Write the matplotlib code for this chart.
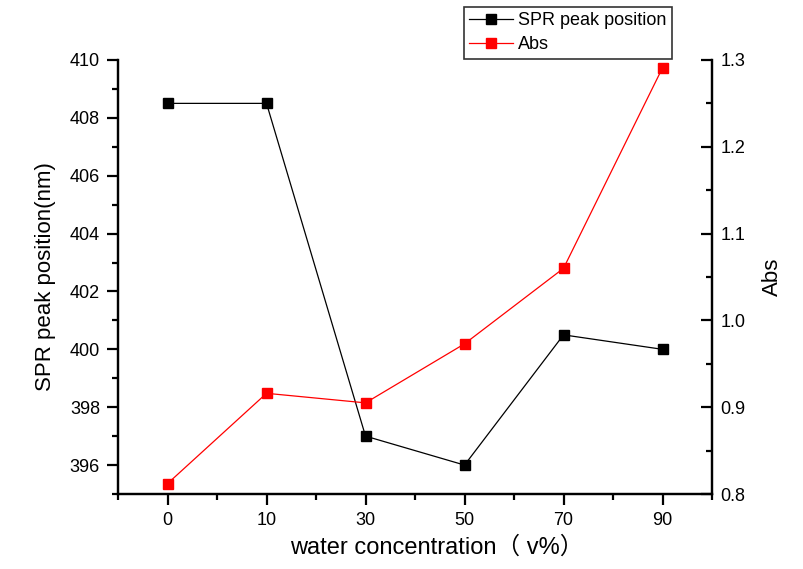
import matplotlib
matplotlib.use("Agg")
import matplotlib.pyplot as plt
from matplotlib.ticker import MultipleLocator, FixedLocator

categories = ["0", "10", "30", "50", "70", "90"]
spr_values = [408.5, 408.5, 397.0, 396.0, 400.5, 400.0]
abs_values = [0.812, 0.916, 0.905, 0.973, 1.060, 1.291]

plt.rcParams['font.family'] = ['Liberation Sans', 'Noto Sans CJK SC', 'DejaVu Sans']

fig = plt.figure(figsize=(8.04, 5.69), dpi=100)
ax = fig.add_axes([0.1468, 0.1318, 0.7388, 0.7628])
x = list(range(len(categories)))

l1, = ax.plot(x, spr_values, color='black', lw=0.9, marker='s', ms=7.5,
              mfc='black', mec='black', label='SPR peak position')
ax.set_xlim(-0.5, len(categories) - 0.5)
ax.set_ylim(395, 410)
ax.set_yticks([396, 398, 400, 402, 404, 406, 408, 410])
ax.yaxis.set_minor_locator(MultipleLocator(1))
ax.xaxis.set_major_locator(FixedLocator(x))
ax.xaxis.set_minor_locator(FixedLocator([i + 0.5 for i in range(-1, len(categories))]))
ax.set_xticklabels(categories)

ax2 = ax.twinx()
l2, = ax2.plot(x, abs_values, color='red', lw=0.9, marker='s', ms=7.5,
               mfc='red', mec='red', label='Abs')
ax2.set_ylim(0.8, 1.3)
ax2.yaxis.set_major_locator(MultipleLocator(0.1))
ax2.yaxis.set_minor_locator(MultipleLocator(0.05))
ax2.set_yticklabels([f"{v:.1f}" for v in ax2.get_yticks()])

for a in (ax, ax2):
    a.spines['top'].set_visible(False)
    for s in a.spines.values():
        s.set_linewidth(1.6)

ax.tick_params(axis='both', which='major', direction='out', length=8, width=1.6, labelsize=13, pad=5)
ax.tick_params(axis='both', which='minor', direction='out', length=4, width=1.6)
ax2.tick_params(axis='y', which='major', direction='in', length=8, width=1.6, labelsize=13, pad=6)
ax2.tick_params(axis='y', which='minor', direction='in', length=4, width=1.6)

ax.set_xlabel("water concentration（ v%）", fontsize=17)
ax.xaxis.set_label_coords(0.536, -0.098)
ax.set_ylabel("SPR peak position(nm)", fontsize=16, labelpad=10)
ax2.set_ylabel("Abs", fontsize=16, labelpad=12)

leg = fig.legend(handles=[l1, l2], loc='upper left', bbox_to_anchor=(0.577, 0.988),
                 frameon=True, fancybox=False, edgecolor='black', fontsize=13,
                 handlelength=2.4, handletextpad=0.3, borderpad=0.3, labelspacing=0.4,
                 borderaxespad=0)
leg.get_frame().set_linewidth(1.2)

fig.savefig("out.png", dpi=100)
